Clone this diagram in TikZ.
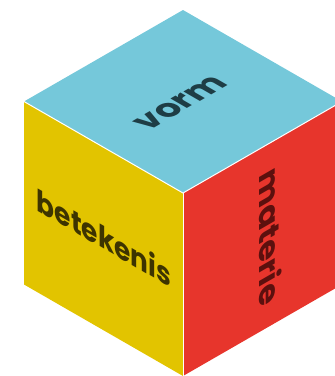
\documentclass[tikz,border=0pt]{standalone}
\usepackage{fontspec}
\setmainfont{Poppins}
\usetikzlibrary{positioning}

\definecolor{vormblue}{HTML}{75C8DA}
\definecolor{betekenisyellow}{HTML}{E2C400}
\definecolor{materiered}{HTML}{E7352C}
\definecolor{vormtext}{HTML}{1E3D45}
\definecolor{betekenistext}{HTML}{3D3400}
\definecolor{materietext}{HTML}{5C100E}

\begin{document}
\begin{tikzpicture}[
    x=1pt, y=-1pt,
    edge/.style={draw=white, line width=1pt},
    facetext/.style={font=\bfseries\fontsize{#1}{#1}\selectfont, inner sep=0pt, transform shape}
]
    \useasboundingbox (0,0) rectangle (335,376);
    \clip (0,0) rectangle (335,376);

    % Corners
    \coordinate (top) at (183,10);
    \coordinate (left) at (24,101.5);
    \coordinate (mid) at (183,193);
    \coordinate (right) at (342,101.5);
    \coordinate (leftbottom) at (24,284.5);
    \coordinate (bottom) at (183,376);
    \coordinate (rightbottom) at (342,284.5);

    % Faces
    \fill[vormblue] (top) -- (left) -- (mid) -- (right) -- cycle;
    \fill[betekenisyellow] (left) -- (mid) -- (bottom) -- (leftbottom) -- cycle;
    \fill[materiered] (mid) -- (right) -- (rightbottom) -- (bottom) -- cycle;

    % Edges
    \draw[edge] (left) -- (mid) -- (right);
    \draw[edge] (mid) -- (bottom);

    % Labels
    \node[facetext=34, text=vormtext, cm={0.866,0.5,-0.866,0.5,(181,103)}] (vorm) {vorm};
    \node[facetext=30.5, text=betekenistext, cm={0.866,-0.5,0,1,(104,237)}] (betekenis) {betekenis};
    \node[facetext=32.5, text=materietext, cm={0,-1,0.866,0.5,(271,236)}] (materie) {materie};
\end{tikzpicture}
\end{document}
